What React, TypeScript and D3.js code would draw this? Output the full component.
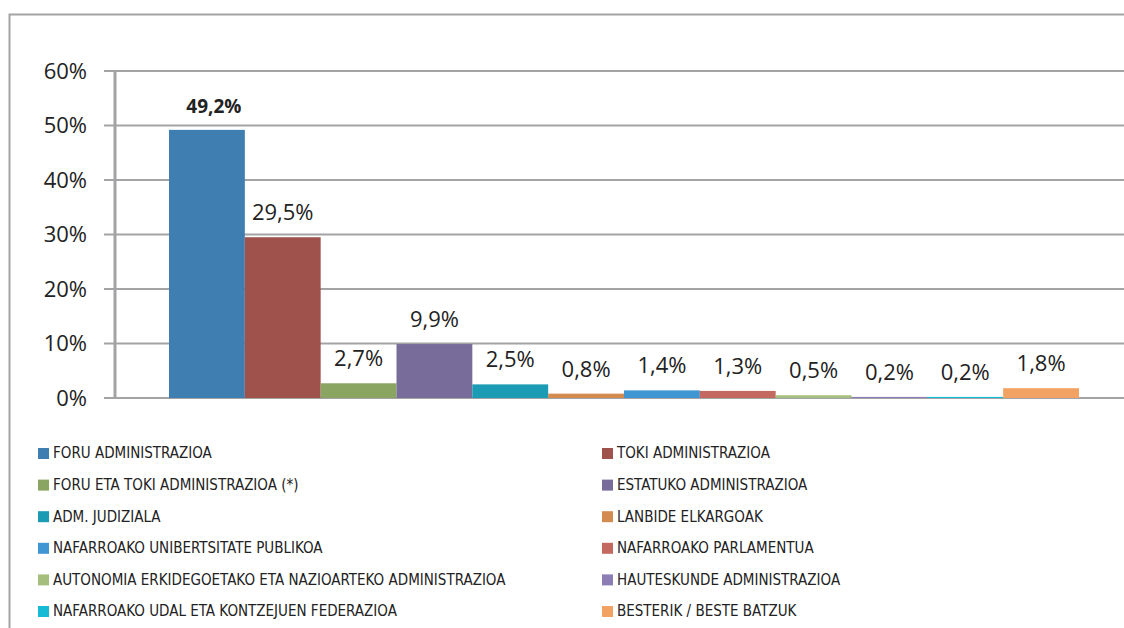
import React from "react";
import * as d3 from "d3";

const categories = [
  "FORU ADMINISTRAZIOA",
  "TOKI ADMINISTRAZIOA",
  "FORU ETA TOKI ADMINISTRAZIOA (*)",
  "ESTATUKO ADMINISTRAZIOA",
  "ADM. JUDIZIALA",
  "LANBIDE ELKARGOAK",
  "NAFARROAKO UNIBERTSITATE PUBLIKOA",
  "NAFARROAKO PARLAMENTUA",
  "AUTONOMIA ERKIDEGOETAKO ETA NAZIOARTEKO ADMINISTRAZIOA",
  "HAUTESKUNDE ADMINISTRAZIOA",
  "NAFARROAKO UDAL ETA KONTZEJUEN FEDERAZIOA",
  "BESTERIK / BESTE BATZUK",
];
const values = [49.2, 29.5, 2.7, 9.9, 2.5, 0.8, 1.4, 1.3, 0.5, 0.2, 0.2, 1.8];
const colors = [
  "#3F7EB0", "#9E524B", "#8AA462", "#786C9A", "#1B9CB4", "#D38B50",
  "#4096D3", "#C4695F", "#A5BE7C", "#8C7DB4", "#15BAD5", "#F2A262",
];
const yTicks = [0, 10, 20, 30, 40, 50, 60];

export default function App() {
  const W = 1124, H = 628;
  const y = d3.scaleLinear().domain([0, 60]).range([398, 71]);
  const x = d3.scaleBand<number>().domain(d3.range(values.length)).range([169, 1079]).padding(0);
  const fmt = (v: number) => v.toFixed(1).replace(".", ",") + "%";
  const grid = "#A3A3A6";
  return (
    <svg width={W} height={H} style={{ position: "absolute", left: 0, top: 0 }}
      fontFamily="'Open Sans', 'Liberation Sans', sans-serif">
      <rect x={0} y={0} width={W} height={H} fill="#fff" />
      <path d={`M9.5,${H} V14.5 H${W}`} fill="none" stroke={grid} strokeWidth={2} />
      {yTicks.map((t) => (
        <g key={t}>
          <line x1={104} x2={W} y1={y(t)} y2={y(t)} stroke={grid} strokeWidth={2} />
          <text x={87} y={y(t)} dy="0.36em" textAnchor="end" fontSize={22} fill="#222">{t}%</text>
        </g>
      ))}
      {values.map((v, i) => (
        <rect key={i} x={x(i)} y={y(v)} width={x.bandwidth()} height={y(0) - y(v)} fill={colors[i]} />
      ))}
      <line x1={115} x2={115} y1={y(60)} y2={y(0) + 1} stroke={grid} strokeWidth={3} />
      {values.map((v, i) => (
        <text key={i} x={(x(i) as number) + x.bandwidth() / 2 + (i === 0 ? 7 : 0)} y={y(v) - 17}
          textAnchor="middle" fontSize={i === 0 ? 19 : 22} fontWeight={i === 0 ? "bold" : "normal"} fill="#222">
          {fmt(v)}
        </text>
      ))}
      {categories.map((c, i) => {
        const col = i % 2;
        const row = Math.floor(i / 2);
        const lx = col === 0 ? 38 : 602;
        const ly = 453 + row * 31.6;
        return (
          <g key={c}>
            <rect x={lx} y={ly - 5} width={11} height={11} fill={colors[i]} />
            <text x={lx + 15} y={ly} dy="0.36em" fontSize={15} fill="#222"
              fontFamily="'Liberation Sans Narrow', 'DejaVu Sans Condensed', 'Liberation Sans', sans-serif">{c}</text>
          </g>
        );
      })}
    </svg>
  );
}
